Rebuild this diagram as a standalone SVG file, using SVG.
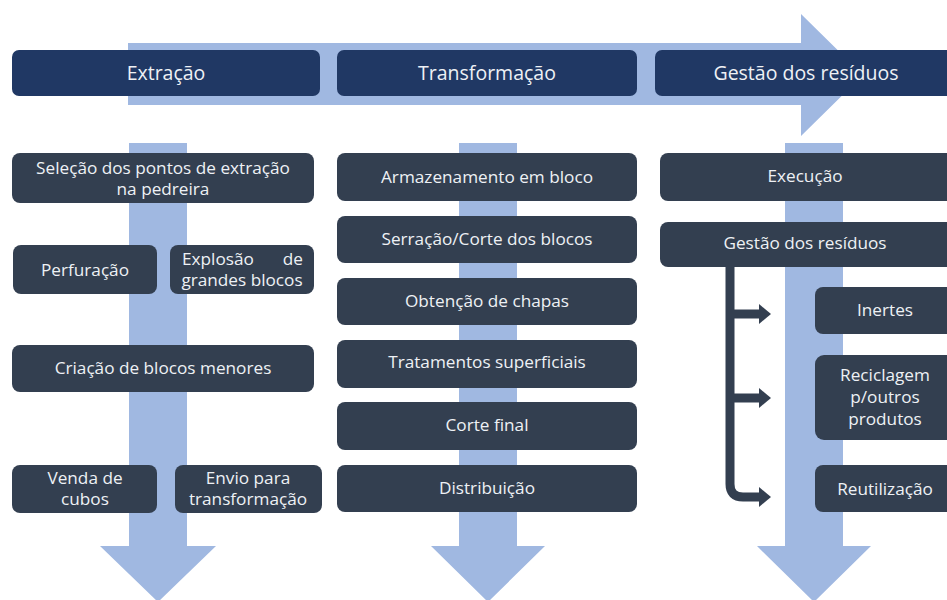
<svg xmlns="http://www.w3.org/2000/svg" width="947" height="600" viewBox="0 0 947 600">
<defs>
<style>
.arrow{fill:#a0b8e1}
.hdr{fill:#203864}
.box{fill:#333f50}
text{font-family:"Open Sans","Liberation Sans",sans-serif;fill:#eef1f5;text-anchor:middle}
.h{font-size:19.5px}
.t{font-size:17.2px}
.conn{fill:none;stroke:#333f50;stroke-width:9}
.ah{fill:#333f50}
</style>
</defs>
<rect width="947" height="600" fill="#ffffff"/>
<g id="flow-arrows">
<polygon class="arrow" points="128,43 801,43 801,14 863,75 801,136 801,105 128,105"/>
<polygon class="arrow" points="129,143 187,143 187,546 216,546 158,602 100,546 129,546"/>
<polygon class="arrow" points="459,143 517,143 517,546 545,546 488,602 431,546 459,546"/>
<polygon class="arrow" points="785,143 843,143 843,546 871,546 814,602 757,546 785,546"/>
</g>
<g id="h-extracao"><rect class="hdr" x="12" y="50" width="308" height="46" rx="7"/><text class="h" x="166" y="80">Extração</text></g>
<g id="h-transformacao"><rect class="hdr" x="337" y="50" width="300" height="46" rx="7"/><text class="h" x="487" y="80">Transformação</text></g>
<g id="h-gestao"><rect class="hdr" x="655" y="50" width="300" height="46" rx="7"/><text class="h" x="806" y="80">Gestão dos resíduos</text></g>

<g id="n-selecao"><rect class="box" x="12" y="153" width="302" height="50" rx="8"/><text class="t" x="163" y="174">Seleção dos pontos de extração</text><text class="t" x="163" y="195">na pedreira</text></g>
<g id="n-perfuracao"><rect class="box" x="13" y="245" width="144" height="49" rx="8"/><text class="t" x="85" y="276">Perfuração</text></g>
<g id="n-explosao"><rect class="box" x="170" y="245" width="144" height="49" rx="8"/><text class="t" x="182" y="265" style="text-anchor:start">Explosão</text><text class="t" x="303" y="265" style="text-anchor:end">de</text><text class="t" x="242" y="286">grandes blocos</text></g>
<g id="n-criacao"><rect class="box" x="12" y="345" width="302" height="47" rx="8"/><text class="t" x="163" y="374">Criação de blocos menores</text></g>
<g id="n-venda"><rect class="box" x="12" y="465" width="145" height="48" rx="8"/><text class="t" x="85" y="484">Venda de</text><text class="t" x="85" y="505">cubos</text></g>
<g id="n-envio"><rect class="box" x="175" y="465" width="147" height="48" rx="8"/><text class="t" x="248" y="484">Envio para</text><text class="t" x="248" y="505">transformação</text></g>

<g id="n-armazenamento"><rect class="box" x="337" y="153" width="300" height="48" rx="8"/><text class="t" x="487" y="183">Armazenamento em bloco</text></g>
<g id="n-serracao"><rect class="box" x="337" y="216" width="300" height="47" rx="8"/><text class="t" x="487" y="245">Serração/Corte dos blocos</text></g>
<g id="n-obtencao"><rect class="box" x="337" y="278" width="300" height="47" rx="8"/><text class="t" x="487" y="307">Obtenção de chapas</text></g>
<g id="n-tratamentos"><rect class="box" x="337" y="340" width="300" height="48" rx="8"/><text class="t" x="487" y="368">Tratamentos superficiais</text></g>
<g id="n-corte"><rect class="box" x="337" y="402" width="300" height="48" rx="8"/><text class="t" x="487" y="431">Corte final</text></g>
<g id="n-distribuicao"><rect class="box" x="337" y="465" width="300" height="47" rx="8"/><text class="t" x="487" y="494">Distribuição</text></g>

<g id="n-execucao"><rect class="box" x="660" y="153" width="300" height="48" rx="8"/><text class="t" x="805" y="182">Execução</text></g>
<g id="n-gestao"><rect class="box" x="660" y="222" width="300" height="45" rx="8"/><text class="t" x="805" y="249">Gestão dos resíduos</text></g>
<g id="n-inertes"><rect class="box" x="815" y="287" width="145" height="47" rx="8"/><text class="t" x="885" y="316">Inertes</text></g>
<g id="n-reciclagem"><rect class="box" x="815" y="355" width="145" height="85" rx="9"/><text class="t" x="885" y="381">Reciclagem</text><text class="t" x="885" y="403">p/outros</text><text class="t" x="885" y="425">produtos</text></g>
<g id="n-reutilizacao"><rect class="box" x="815" y="465" width="145" height="47" rx="8"/><text class="t" x="885" y="495">Reutilização</text></g>

<g id="connectors">
<path class="conn" d="M730,265 V484 Q730,497 743,497 H760"/>
<path class="conn" d="M730,314 H760"/>
<path class="conn" d="M730,398 H760"/>
<polygon class="ah" points="759,304 771,314 759,324"/>
<polygon class="ah" points="759,388 771,398 759,408"/>
<polygon class="ah" points="759,487 771,497 759,507"/>
</g>
</svg>
